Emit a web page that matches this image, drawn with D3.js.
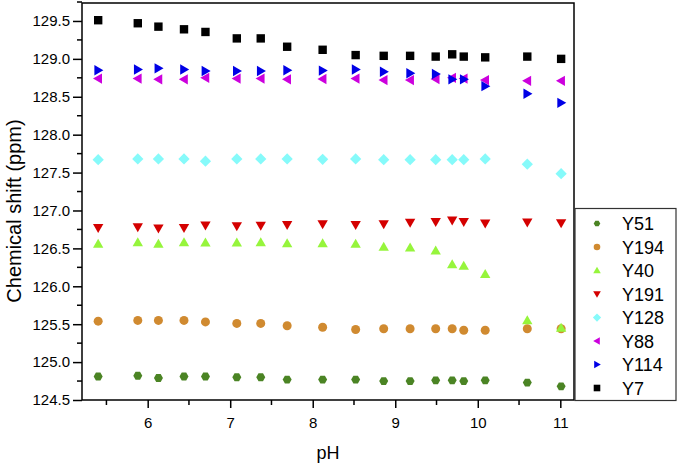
<!DOCTYPE html>
<html><head><meta charset="utf-8">
<script src="https://cdn.jsdelivr.net/npm/d3@7"></script>
<style>body{margin:0;background:#fff}svg{display:block}text{font-family:"Liberation Sans",Arial,sans-serif}</style>
</head><body><svg id="c" width="678" height="463"></svg>
<script>
const pH = [5.40, 5.88, 6.13, 6.44, 6.70, 7.08, 7.37, 7.69, 8.12, 8.52, 8.86, 9.18, 9.49, 9.69, 9.83, 10.09, 10.60, 11.01];
const seriesNames = ["Y51","Y194","Y40","Y191","Y128","Y88","Y114","Y7"];
const Y51  = [124.81,124.82,124.79,124.81,124.81,124.80,124.80,124.77,124.77,124.77,124.75,124.75,124.76,124.76,124.75,124.76,124.73,124.68];
const Y194 = [125.54,125.55,125.55,125.55,125.53,125.51,125.51,125.48,125.46,125.43,125.44,125.44,125.44,125.44,125.42,125.42,125.44,125.44];
const Y40  = [126.56,126.58,126.56,126.58,126.575,126.575,126.58,126.567,126.567,126.56,126.52,126.51,126.47,126.29,126.27,126.16,125.55,125.45];
const Y191 = [126.77,126.78,126.765,126.77,126.805,126.795,126.80,126.81,126.82,126.81,126.82,126.84,126.85,126.87,126.85,126.83,126.845,126.835];
const Y128 = [127.67,127.68,127.68,127.68,127.65,127.68,127.68,127.68,127.675,127.68,127.67,127.67,127.67,127.67,127.67,127.68,127.61,127.485];
const Y88  = [128.74,128.74,128.73,128.73,128.75,128.74,128.74,128.73,128.735,128.74,128.72,128.72,128.735,128.75,128.74,128.72,128.71,128.71];
const Y114 = [128.85,128.86,128.875,128.86,128.84,128.84,128.84,128.85,128.845,128.86,128.83,128.81,128.80,128.73,128.73,128.64,128.54,128.42];
const Y7   = [129.51,129.47,129.425,129.39,129.355,129.27,129.27,129.16,129.12,129.05,129.04,129.04,129.03,129.06,129.03,129.02,129.03,129.00];
const xTicks = [6,7,8,9,10,11];
const yTicks = [124.5,125.0,125.5,126.0,126.5,127.0,127.5,128.0,128.5,129.0,129.5];

const values = {Y51,Y194,Y40,Y191,Y128,Y88,Y114,Y7};
const colors = {Y51:"#4b8424",Y194:"#d08a30",Y40:"#96f53c",Y191:"#d40000",Y128:"#86fafa",Y88:"#cc00dd",Y114:"#0000e6",Y7:"#000000"};
const shapes = {Y51:"hex",Y194:"circle",Y40:"up",Y191:"down",Y128:"diamond",Y88:"left",Y114:"right",Y7:"square"};

const svg = d3.select("#c");
const L=82, R=574, T=3, B=400;
const x = d3.scaleLinear().domain([5.204,11.166]).range([L,R]);
const y = d3.scaleLinear().domain([124.5,129.737]).range([B,T]);

function shapePath(s, r){
  switch(s){
    case "square": return `M${-r},${-r}H${r}V${r}H${-r}Z`;
    case "circle": return d3.symbol(d3.symbolCircle, Math.PI*r*r)();
    case "diamond": return `M0,${-r*1.25}L${r*1.25},0L0,${r*1.25}L${-r*1.25},0Z`;
    case "up": return `M0,${-r*1.15}L${r*1.15},${r*0.85}L${-r*1.15},${r*0.85}Z`;
    case "down": return `M0,${r*1.15}L${r*1.15},${-r*0.85}L${-r*1.15},${-r*0.85}Z`;
    case "left": return `M${-r*1.15},0L${r*0.85},${-r*1.15}L${r*0.85},${r*1.15}Z`;
    case "right": return `M${r*1.15},0L${-r*0.85},${-r*1.15}L${-r*0.85},${r*1.15}Z`;
    case "hex": { let p=[]; for(let i=0;i<6;i++){const a=Math.PI/3*i; p.push([r*Math.cos(a), r*Math.sin(a)]);} return "M"+p.map(d=>d.join(",")).join("L")+"Z"; }
  }
}

// axes
const yAxis = d3.axisLeft(y).tickValues(yTicks).tickFormat(d3.format(".1f")).tickSize(9).tickSizeOuter(0);
const gy = svg.append("g").attr("transform",`translate(${L},0)`).call(yAxis);
gy.selectAll("text").attr("font-size",15).attr("fill","#000").attr("x",-12);
gy.selectAll(".tick line").attr("stroke-width",1.5);
gy.select(".domain").remove();
const yMinor = d3.range(124.75,129.76,0.5);
svg.append("g").selectAll("line").data(yMinor).join("line")
  .attr("x1",L-5).attr("x2",L).attr("y1",d=>y(d)).attr("y2",d=>y(d)).attr("stroke","#000").attr("stroke-width",1.5);

const xAxis = d3.axisBottom(x).tickValues(xTicks).tickFormat(d3.format("d")).tickSize(8).tickSizeOuter(0);
const gx = svg.append("g").attr("transform",`translate(0,${B})`).call(xAxis);
gx.selectAll("text").attr("font-size",15).attr("fill","#000").attr("y",17);
gx.selectAll(".tick line").attr("stroke-width",1.5);
gx.select(".domain").remove();
const xMinor = [5.5,6.5,7.5,8.5,9.5,10.5];
svg.append("g").selectAll("line").data(xMinor).join("line")
  .attr("x1",d=>x(d)).attr("x2",d=>x(d)).attr("y1",B).attr("y2",B+5).attr("stroke","#000").attr("stroke-width",1.5);

svg.append("rect").attr("x",L).attr("y",T).attr("width",R-L).attr("height",B-T)
  .attr("fill","none").attr("stroke","#000").attr("stroke-width",1.5);

// points
const order = ["Y51","Y194","Y40","Y191","Y128","Y88","Y114","Y7"];
order.forEach(name=>{
  svg.append("g").selectAll("path").data(pH.map((p,i)=>[p,values[name][i]])).join("path")
    .attr("transform",d=>`translate(${x(d[0])},${y(d[1])})`)
    .attr("d",shapePath(shapes[name], name==="Y7"?4.2:4.5))
    .attr("fill",colors[name]);
});

// legend
const lg = svg.append("g");
lg.append("rect").attr("x",575).attr("y",208.5).attr("width",101).attr("height",192)
  .attr("fill","#fff").attr("stroke","#333").attr("stroke-width",1.2);
seriesNames.forEach((n,i)=>{
  const cy = 223.5 + i*23.5;
  lg.append("path").attr("transform",`translate(597,${cy})`).attr("d",shapePath(shapes[n],3.3)).attr("fill",colors[n]);
  lg.append("text").attr("x",622).attr("y",cy+6.5).attr("font-size",18).text(n);
});

svg.append("text").attr("x",(L+R)/2).attr("y",459).attr("text-anchor","middle").attr("font-size",18).text("pH");
svg.append("text").attr("transform",`translate(21,211) rotate(-90)`).attr("text-anchor","middle").attr("font-size",20).text("Chemical shift (ppm)");
</script></body></html>
